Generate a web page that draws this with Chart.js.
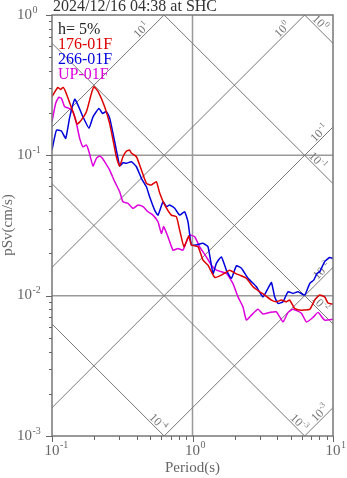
<!DOCTYPE html>
<html>
<head>
<meta charset="utf-8">
<title>pSv Response Spectrum</title>
<script src="https://cdn.jsdelivr.net/npm/chart.js"></script>
<style>
  html, body { margin: 0; padding: 0; background: #fff; }
</style>
</head>
<body>
<canvas id="spec" width="347" height="478"></canvas>
<script>
// periods (s) and pSv (cm/s)
const redT = [0.100,0.110,0.115,0.120,0.125,0.134,0.145,0.151,0.162,0.176,0.191,0.199,0.213,0.237,0.257,0.272,0.287,0.303,0.320,0.338,0.357,0.367,0.399,0.433,0.470,0.509,0.553,0.584,0.634,0.707,0.768,0.810,0.869,0.940,0.982,1.095,1.188,1.289,1.439,1.605,1.839,2.053,2.168,2.418,2.696,3.008,3.263,3.645,3.955,4.293,4.661,4.918,5.338,5.793,6.826,7.409,8.041,8.727,9.208,10.0];
const redV = [0.262,0.305,0.295,0.305,0.284,0.235,0.188,0.167,0.179,0.205,0.277,0.308,0.284,0.222,0.169,0.1285,0.0977,0.0839,0.0977,0.107,0.109,0.1038,0.0977,0.0785,0.0631,0.0614,0.0649,0.0539,0.0443,0.0375,0.0365,0.0294,0.0223,0.0266,0.0230,0.0223,0.0179,0.0165,0.0135,0.0140,0.0152,0.0143,0.0140,0.0133,0.01157,0.01066,0.0101,0.0093,0.00905,0.0093,0.00905,0.0093,0.00811,0.00789,0.00798,0.0093,0.0101,0.0098,0.00886,0.0087];

const blueT = [0.100,0.1075,0.1167,0.1252,0.1337,0.1452,0.1531,0.1662,0.1834,0.1958,0.216,0.2284,0.2437,0.2574,0.2794,0.2950,0.3032,0.3199,0.3384,0.3673,0.3988,0.4327,0.4697,0.4954,0.538,0.5679,0.6169,0.6515,0.688,0.747,0.8102,0.8787,0.929,0.9817,1.066,1.188,1.289,1.400,1.479,1.605,1.742,1.891,2.053,2.229,2.484,2.851,3.175,3.445,3.645,3.847,4.060,4.409,4.784,5.193,5.632,6.289,6.826,7.290,7.697,8.041,8.727,9.477,10.0];
const blueV = [0.109,0.151,0.149,0.1321,0.187,0.251,0.228,0.188,0.156,0.188,0.216,0.199,0.205,0.184,0.125,0.0952,0.0839,0.0886,0.0877,0.090,0.0829,0.0686,0.0597,0.0507,0.0407,0.0375,0.0467,0.0431,0.0443,0.0419,0.0375,0.0396,0.0336,0.0230,0.0230,0.0236,0.0223,0.0144,0.0170,0.0189,0.0152,0.0133,0.0163,0.0157,0.0133,0.01157,0.0098,0.01128,0.0124,0.0098,0.00881,0.00905,0.01066,0.01038,0.01066,0.0101,0.0122,0.0129,0.0144,0.0148,0.0175,0.0187,0.0184];

const upT = [0.100,0.1062,0.1116,0.1167,0.1231,0.132,0.1411,0.1492,0.1574,0.1662,0.1758,0.1834,0.1958,0.2070,0.2186,0.2284,0.241,0.2574,0.2794,0.3032,0.3199,0.3475,0.3770,0.4095,0.4446,0.4822,0.5232,0.5679,0.6008,0.6237,0.6692,0.7265,0.7880,0.8551,0.9052,0.9550,1.037,1.124,1.255,1.363,1.479,1.742,1.942,2.108,2.287,2.418,2.626,2.926,3.175,3.542,3.955,4.409,4.784,5.193,5.957,6.469,7.206,7.824,8.727,10.0];
const upV = [0.174,0.235,0.259,0.255,0.222,0.216,0.205,0.169,0.1321,0.1151,0.1185,0.1061,0.0839,0.0952,0.0989,0.0952,0.0877,0.0785,0.0649,0.0550,0.0467,0.0455,0.0419,0.0443,0.0431,0.0396,0.0375,0.0336,0.0278,0.0310,0.0263,0.0211,0.0217,0.0211,0.0242,0.0270,0.0263,0.0223,0.0189,0.0165,0.0152,0.0144,0.0122,0.0098,0.0083,0.0067,0.00727,0.0080,0.0074,0.0076,0.00767,0.0065,0.0076,0.0080,0.0075,0.0065,0.0070,0.0076,0.0067,0.0068];

const seriesNames = ['176-01F', '266-01F', 'UP-01F'];
const xTickExp = [-1, 0, 1];
const yTickExp = [0, -1, -2, -3];
// tripartite guide lines: displacement (cm) and acceleration (cm/s2)
const dispLevels = [1e-4, 1e-3, 1e-2, 1e-1, 1];
const accLevels = [1e-3, 1e-2, 1e-1, 1, 10];

// where along each guide line its label sits (period)
const dispLabelAt = [0.534, 5.38, 7.6, 7.3, 7.6];
const accLabelAt = [8.6, 8.87, 8.5, 4.64, 0.46];

const SERIF = '"Liberation Serif", "Times New Roman", serif';
const colors = ['#dd0000', '#0000dd', '#dd00dd'];

function pts(t, v) {
    return t.map((p, i) => ({ x: p, y: v[i] }));
}

// draws "10" with a raised exponent, starting at x
function powLabel(ctx, x, y, exp, base, small, raise) {
    ctx.font = base + 'px ' + SERIF;
    ctx.fillText('10', x, y);
    const w = ctx.measureText('10').width;
    ctx.font = small + 'px ' + SERIF;
    ctx.fillText(String(exp), x + w + 0.5, y - raise);
    return w + 0.5 + ctx.measureText(String(exp)).width;
}
function powWidth(ctx, exp, base, small) {
    ctx.font = base + 'px ' + SERIF;
    const w = ctx.measureText('10').width;
    ctx.font = small + 'px ' + SERIF;
    return w + 0.5 + ctx.measureText(String(exp)).width;
}

const frame = {
    id: 'frame',
    beforeDatasetsDraw(chart) {
        const { ctx, chartArea: a, scales: { x, y } } = chart;
        ctx.save();
        ctx.beginPath();
        ctx.rect(a.left, a.top, a.right - a.left, a.bottom - a.top);
        ctx.clip();

        // grid at decades
        ctx.strokeStyle = '#9a9a9a';
        ctx.lineWidth = 1.5;
        ctx.beginPath();
        const gx = x.getPixelForValue(1);
        ctx.moveTo(gx, a.top); ctx.lineTo(gx, a.bottom);
        [0.1, 0.01].forEach(v => {
            const gy = y.getPixelForValue(v);
            ctx.moveTo(a.left, gy); ctx.lineTo(a.right, gy);
        });
        ctx.stroke();

        // diagonal guide lines
        ctx.strokeStyle = '#777';
        ctx.lineWidth = 1;
        const t0 = 0.1, t1 = 10;
        ctx.beginPath();
        dispLevels.forEach(d => {
            ctx.moveTo(x.getPixelForValue(t0), y.getPixelForValue(2 * Math.PI * d / t0));
            ctx.lineTo(x.getPixelForValue(t1), y.getPixelForValue(2 * Math.PI * d / t1));
        });
        accLevels.forEach(ac => {
            ctx.moveTo(x.getPixelForValue(t0), y.getPixelForValue(ac * t0 / (2 * Math.PI)));
            ctx.lineTo(x.getPixelForValue(t1), y.getPixelForValue(ac * t1 / (2 * Math.PI)));
        });
        ctx.stroke();

        // guide line labels
        ctx.fillStyle = '#777';
        ctx.textBaseline = 'middle';
        const off = 5 / Math.SQRT2;
        dispLevels.forEach((d, i) => {
            const t = dispLabelAt[i];
            const px = x.getPixelForValue(t) + off;
            const py = y.getPixelForValue(2 * Math.PI * d / t) - off;
            const e = Math.round(Math.log10(d));
            ctx.save();
            ctx.translate(px, py);
            ctx.rotate(Math.PI / 4);
            powLabel(ctx, -powWidth(ctx, e, 12, 8) / 2, 0, e, 12, 8, 4);
            ctx.restore();
        });
        accLevels.forEach((ac, i) => {
            const t = accLabelAt[i];
            const px = x.getPixelForValue(t) - off;
            const py = y.getPixelForValue(ac * t / (2 * Math.PI)) - off;
            const e = Math.round(Math.log10(ac));
            ctx.save();
            ctx.translate(px, py);
            ctx.rotate(-Math.PI / 4);
            powLabel(ctx, -powWidth(ctx, e, 12, 8) / 2, 0, e, 12, 8, 4);
            ctx.restore();
        });
        ctx.restore();
    },
    afterDraw(chart) {
        const { ctx, chartArea: a, scales: { x, y } } = chart;
        ctx.save();

        // frame
        ctx.strokeStyle = '#777';
        ctx.lineWidth = 1.5;
        ctx.strokeRect(a.left, a.top, a.right - a.left, a.bottom - a.top);

        // ticks
        ctx.lineWidth = 1;
        ctx.strokeStyle = '#666';
        ctx.beginPath();
        for (let k = -3; k <= 0; k++) {
            for (let m = 1; m <= 9; m++) {
                const v = m * Math.pow(10, k);
                if (v > 1.0001) break;
                const py = Math.round(y.getPixelForValue(v)) + 0.5;
                ctx.moveTo(a.left, py);
                ctx.lineTo(a.left - (m === 1 ? 6 : 3), py);
            }
        }
        for (let k = -1; k <= 1; k++) {
            for (let m = 1; m <= 9; m++) {
                const v = m * Math.pow(10, k);
                if (v > 10.0001) break;
                const px = Math.round(x.getPixelForValue(v)) + 0.5;
                ctx.moveTo(px, a.bottom);
                ctx.lineTo(px, a.bottom + (m === 1 ? 6 : 4));
            }
        }
        ctx.stroke();

        // tick labels
        ctx.fillStyle = '#666';
        ctx.textBaseline = 'alphabetic';
        ctx.textAlign = 'left';
        yTickExp.forEach(e => {
            const py = y.getPixelForValue(Math.pow(10, e));
            powLabel(ctx, 17, py + 3.5, e, 15, 10, 6);
        });
        xTickExp.forEach(e => {
            const px = x.getPixelForValue(Math.pow(10, e));
            ctx.font = '15px ' + SERIF;
            const w10 = ctx.measureText('10').width;
            powLabel(ctx, px - w10 / 2, 455, e, 15, 10, 7);
        });

        // axis titles
        ctx.font = '15px ' + SERIF;
        ctx.textAlign = 'center';
        ctx.fillText('Period(s)', (a.left + a.right) / 2, 472);
        ctx.save();
        ctx.translate(12, 225);
        ctx.rotate(-Math.PI / 2);
        ctx.fillText('pSv(cm/s)', 0, 0);
        ctx.restore();

        // title
        ctx.textAlign = 'left';
        ctx.fillStyle = '#333';
        ctx.font = '16px ' + SERIF;
        ctx.fillText('2024/12/16 04:38 at SHC', 53, 11);

        // in-plot legend
        ctx.fillStyle = '#222';
        ctx.fillText('h= 5%', 58, 34);
        seriesNames.forEach((n, i) => {
            ctx.fillStyle = colors[i];
            ctx.fillText(n, 58, 49 + i * 14.8);
        });
        ctx.restore();
    }
};

new Chart(document.getElementById('spec'), {
    type: 'line',
    data: {
        datasets: [
            { label: seriesNames[0], data: pts(redT, redV), borderColor: colors[0] },
            { label: seriesNames[1], data: pts(blueT, blueV), borderColor: colors[1] },
            { label: seriesNames[2], data: pts(upT, upV), borderColor: colors[2] }
        ].map(d => Object.assign(d, { borderWidth: 1.5, pointRadius: 0, tension: 0.15, fill: false }))
    },
    options: {
        responsive: false,
        animation: false,
        layout: { padding: { left: 52, right: 14, top: 15, bottom: 42 } },
        plugins: { legend: { display: false }, tooltip: { enabled: false } },
        scales: {
            x: { type: 'logarithmic', min: 0.1, max: 10, display: false },
            y: { type: 'logarithmic', min: 0.001, max: 1, display: false }
        }
    },
    plugins: [frame]
});
</script>
</body>
</html>
